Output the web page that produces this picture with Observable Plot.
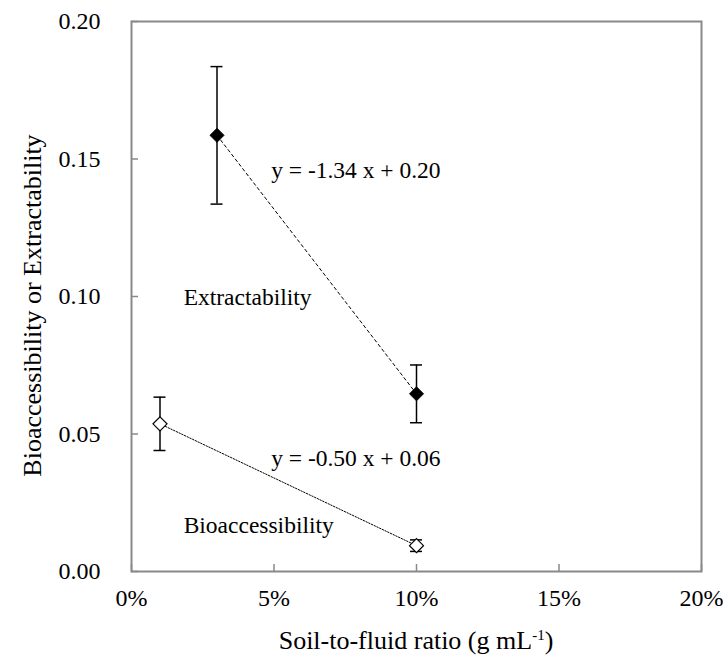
<!DOCTYPE html>
<html><head><meta charset="utf-8">
<script src="https://cdn.jsdelivr.net/npm/d3@7"></script>
<script src="https://cdn.jsdelivr.net/npm/@observablehq/plot@0.6"></script>
<style>
body{margin:0;background:#fff;font-family:"Liberation Serif","Times New Roman",Tinos,"DejaVu Serif",serif}
#wrap{position:relative;width:728px;height:664px}
#xtitle{position:absolute;left:131px;width:570px;top:628px;text-align:center;font-size:26px;line-height:26px;color:#000;white-space:nowrap}
#xtitle sup{font-size:15px;line-height:0;vertical-align:9px}
</style></head><body>
<div id="wrap"><div id="xtitle">Soil-to-fluid ratio (g mL<sup>-1</sup>)</div></div>
<script>
// Extractability series
const extrX = [0.03, 0.10];
const extrY = [0.1586, 0.0646];
const extrErr = [0.025, 0.0105];
// Bioaccessibility series
const bioX = [0.01, 0.10];
const bioY = [0.0537, 0.0094];
const bioErr = [0.0097, 0.0021];
// Axis ticks
const xTicks = [0, 0.05, 0.10, 0.15, 0.20];
const yTicks = [0, 0.05, 0.10, 0.15, 0.20];
// Annotation texts and anchors (data units)
const annText = ["y = -1.34 x + 0.20", "Extractability", "y = -0.50 x + 0.06", "Bioaccessibility"];
const annX = [0.049, 0.0183, 0.049, 0.0183];
const annY = [0.1459, 0.0998, 0.0410, 0.0167];
const yTitle = "Bioaccessibility or Extractability";

const extr = extrX.map((x, i) => ({x, y: extrY[i], lo: extrY[i] - extrErr[i], hi: extrY[i] + extrErr[i]}));
const bio = bioX.map((x, i) => ({x, y: bioY[i], lo: bioY[i] - bioErr[i], hi: bioY[i] + bioErr[i]}));
const ann = annText.map((t, i) => ({t, x: annX[i], y: annY[i]}));
const gray = "#898989";
const serif = '"Liberation Serif","Times New Roman",Tinos,"DejaVu Serif",serif';
const W = 728, H = 664, mL = 131, mR = 27, mT = 21, mB = 93;
const innerW = W - mL - mR, innerH = H - mT - mB, tk = 7;

const chart = Plot.plot({
  width: W, height: H,
  marginLeft: mL, marginRight: mR, marginTop: mT, marginBottom: mB,
  style: {fontFamily: serif, fontSize: "24px", background: "#fff", overflow: "visible"},
  x: {domain: [0, 0.20]},
  y: {domain: [0, 0.20]},
  marks: [
    Plot.tickX(xTicks, {x: d => d, insetTop: innerH - tk, stroke: gray, strokeWidth: 1.5}),
    Plot.tickY(yTicks, {y: d => d, insetRight: innerW - tk, stroke: gray, strokeWidth: 1.5}),
    Plot.axisX({ticks: xTicks, tickSize: 0, tickPadding: 17, tickFormat: d3.format(".0%"), fontSize: 24, fontFamily: serif, label: null}),
    Plot.axisY({ticks: yTicks, tickSize: 0, tickPadding: 31, tickFormat: d3.format(".2f"), fontSize: 24, fontFamily: serif, label: null}),
    Plot.frame({stroke: gray, strokeWidth: 2}),
    Plot.text([yTitle], {frameAnchor: "left", rotate: -90, dx: -99, dy: 9, fontSize: 26, fontFamily: serif, lineAnchor: "middle", textAnchor: "middle"}),
    Plot.line(extr, {x: "x", y: "y", stroke: "#000", strokeWidth: 1, strokeDasharray: "3,3"}),
    Plot.line(bio, {x: "x", y: "y", stroke: "#000", strokeWidth: 1, strokeDasharray: "1.5,1.5"}),
    Plot.ruleX(extr, {x: "x", y1: "lo", y2: "hi", stroke: "#000", strokeWidth: 1.5}),
    Plot.ruleX(bio, {x: "x", y1: "lo", y2: "hi", stroke: "#000", strokeWidth: 1.5}),
    Plot.ruleY(extr, {y: "hi", x1: "x", x2: "x", insetLeft: -6, insetRight: -6, stroke: "#000", strokeWidth: 1.5}),
    Plot.ruleY(extr, {y: "lo", x1: "x", x2: "x", insetLeft: -6, insetRight: -6, stroke: "#000", strokeWidth: 1.5}),
    Plot.ruleY(bio, {y: "hi", x1: "x", x2: "x", insetLeft: -6, insetRight: -6, stroke: "#000", strokeWidth: 1.5}),
    Plot.ruleY(bio, {y: "lo", x1: "x", x2: "x", insetLeft: -6, insetRight: -6, stroke: "#000", strokeWidth: 1.5}),
    Plot.dot(extr, {x: "x", y: "y", symbol: "diamond2", r: 6.3, fill: "#000", stroke: "#000", strokeWidth: 1}),
    Plot.dot(bio, {x: "x", y: "y", symbol: "diamond2", r: 6.3, fill: "#fff", stroke: "#000", strokeWidth: 1.2}),
    Plot.text(ann, {x: "x", y: "y", text: "t", textAnchor: "start", lineAnchor: "middle", fontSize: 23.5, fontFamily: serif, fill: "#000"})
  ]
});
document.getElementById("wrap").prepend(chart);
</script>
</body></html>
